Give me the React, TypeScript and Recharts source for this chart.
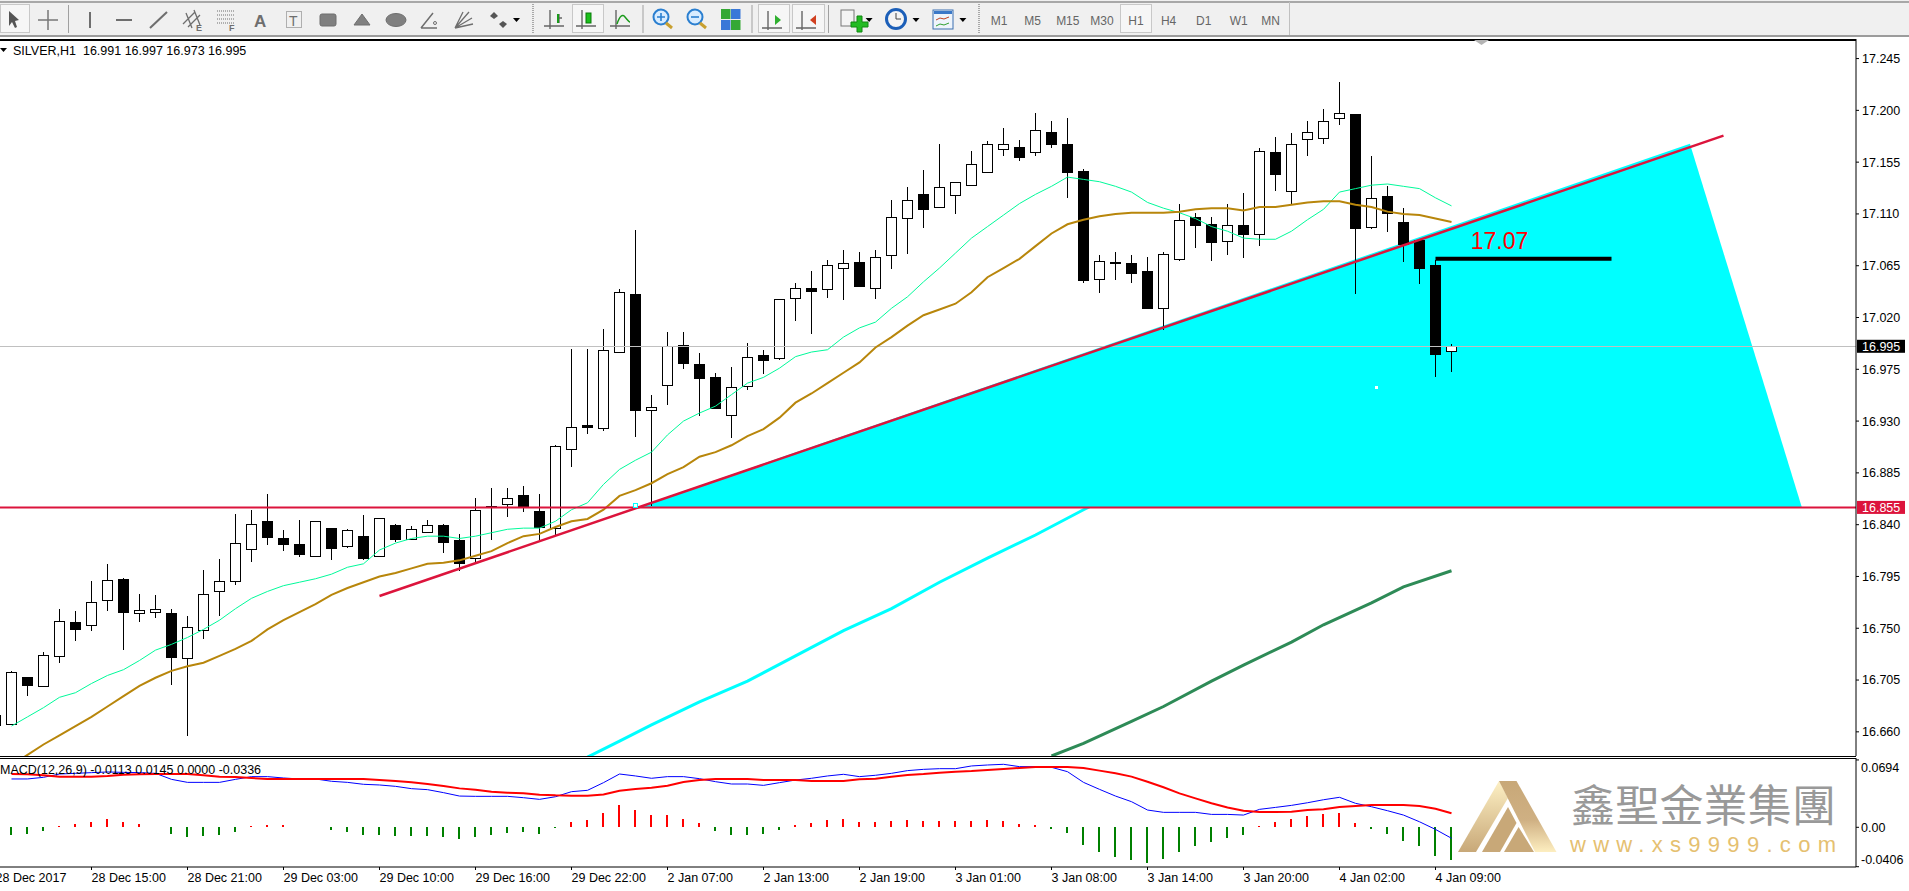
import React from 'react';
import { ComposedChart, Bar, Line, Area, XAxis, YAxis, ReferenceLine, ReferenceDot } from 'recharts';

// Candles start at bar index -1 (the one cut off by the left edge)
const opens = [16.666,16.667,16.708,16.700,16.726,16.755,16.753,16.775,16.793,16.763,16.764,16.763,16.724,16.749,16.782,16.791,16.819,16.843,16.828,16.823,16.813,16.837,16.821,16.830,16.813,16.840,16.827,16.834,16.840,16.827,16.811,16.856,16.858,16.866,16.852,16.837,16.906,16.927,16.924,16.990,17.040,16.939,16.961,16.996,16.980,16.968,16.936,16.961,16.987,16.985,17.037,17.046,17.045,17.063,17.068,17.046,17.074,17.106,17.127,17.116,17.127,17.135,17.147,17.167,17.168,17.164,17.181,17.171,17.147,17.053,17.068,17.067,17.060,17.028,17.071,17.107,17.101,17.086,17.100,17.093,17.164,17.130,17.175,17.176,17.194,17.197,17.099,17.126,17.103,17.087,17.066,16.991];
const closes = [16.675,16.712,16.701,16.727,16.756,16.749,16.773,16.792,16.764,16.766,16.767,16.725,16.751,16.780,16.791,16.824,16.841,16.829,16.823,16.814,16.843,16.820,16.835,16.811,16.846,16.828,16.836,16.840,16.825,16.807,16.853,16.855,16.863,16.856,16.838,16.908,16.925,16.925,16.992,17.042,16.939,16.942,16.995,16.980,16.968,16.941,16.960,16.986,16.983,17.036,17.046,17.043,17.066,17.067,17.047,17.073,17.107,17.122,17.114,17.133,17.138,17.153,17.171,17.171,17.159,17.183,17.171,17.147,17.052,17.069,17.067,17.058,17.028,17.075,17.105,17.100,17.085,17.100,17.092,17.165,17.145,17.171,17.181,17.191,17.198,17.098,17.124,17.111,17.084,17.063,16.989,16.995];
const highs = [16.678,16.713,16.708,16.729,16.767,16.765,16.791,16.806,16.794,16.780,16.779,16.767,16.761,16.801,16.810,16.849,16.853,16.867,16.835,16.844,16.843,16.837,16.836,16.848,16.846,16.841,16.839,16.844,16.841,16.832,16.863,16.872,16.872,16.874,16.867,16.909,16.993,16.993,17.010,17.045,17.096,16.953,17.007,17.007,16.989,16.972,16.977,16.998,16.992,17.036,17.050,17.060,17.070,17.079,17.077,17.079,17.122,17.133,17.148,17.171,17.138,17.165,17.173,17.185,17.174,17.198,17.191,17.193,17.149,17.074,17.077,17.074,17.073,17.077,17.119,17.111,17.107,17.119,17.128,17.167,17.177,17.180,17.191,17.201,17.225,17.197,17.160,17.134,17.115,17.087,17.070,16.997];
const lows = [16.664,16.667,16.691,16.700,16.720,16.739,16.748,16.765,16.731,16.755,16.759,16.701,16.656,16.741,16.761,16.788,16.808,16.822,16.817,16.812,16.812,16.809,16.820,16.809,16.813,16.825,16.827,16.834,16.815,16.800,16.807,16.827,16.847,16.851,16.827,16.830,16.890,16.919,16.921,16.989,16.916,16.856,16.944,16.975,16.934,16.941,16.915,16.957,16.971,16.983,17.017,17.006,17.037,17.035,17.047,17.036,17.062,17.075,17.098,17.115,17.110,17.134,17.146,17.160,17.156,17.160,17.167,17.124,17.050,17.041,17.053,17.050,17.027,17.009,17.069,17.080,17.069,17.074,17.072,17.082,17.130,17.119,17.160,17.171,17.187,17.040,17.097,17.094,17.068,17.049,16.968,16.973];

// Moving averages start at bar index 0
const fastMa = [16.665,16.673,16.681,16.690,16.694,16.702,16.709,16.714,16.722,16.731,16.736,16.742,16.749,16.757,16.767,16.776,16.782,16.787,16.790,16.793,16.797,16.803,16.806,16.818,16.824,16.828,16.830,16.830,16.828,16.830,16.833,16.836,16.837,16.837,16.843,16.853,16.859,16.875,16.888,16.896,16.903,16.918,16.930,16.937,16.943,16.953,16.963,16.968,16.976,16.986,16.990,16.992,17.003,17.011,17.016,17.028,17.038,17.051,17.063,17.076,17.089,17.099,17.109,17.119,17.127,17.134,17.142,17.140,17.138,17.134,17.129,17.120,17.115,17.111,17.106,17.099,17.095,17.089,17.088,17.088,17.095,17.105,17.114,17.129,17.132,17.135,17.136,17.134,17.132,17.124,17.117];
const midMa = [16.631,16.640,16.649,16.657,16.665,16.673,16.682,16.691,16.700,16.707,16.713,16.717,16.720,16.726,16.732,16.739,16.749,16.757,16.764,16.771,16.779,16.785,16.790,16.795,16.798,16.802,16.806,16.807,16.809,16.813,16.817,16.824,16.830,16.832,16.838,16.843,16.845,16.853,16.865,16.870,16.876,16.884,16.890,16.899,16.903,16.909,16.917,16.923,16.933,16.946,16.954,16.963,16.972,16.981,16.994,17.003,17.013,17.022,17.027,17.032,17.042,17.055,17.063,17.071,17.082,17.093,17.101,17.105,17.108,17.110,17.111,17.111,17.111,17.112,17.114,17.115,17.115,17.113,17.116,17.116,17.118,17.120,17.121,17.121,17.118,17.116,17.112,17.110,17.109,17.106,17.103];

// Slow averages, read at the marked bar indices
const cyanBars = [36,38,40,43,46,49,52,55,58,61,64,67,70];
const cyanMa = [16.638,16.652,16.666,16.686,16.704,16.726,16.748,16.767,16.790,16.811,16.831,16.853,16.874];
const greenBars = [65,67,70,72,75,77,80,82,85,87,90];
const greenMa = [16.639,16.650,16.669,16.682,16.704,16.718,16.738,16.753,16.772,16.786,16.800];

// MACD pane, from bar index 0
const macdHist = [-0.0082,-0.0072,-0.0041,0.0010,0.0031,0.0052,0.0082,0.0052,0.0031,0.0005,-0.0072,-0.0103,-0.0093,-0.0082,-0.0052,0.0010,0.0021,0.0021,0.0005,0.0007,-0.0031,-0.0052,-0.0082,-0.0082,-0.0093,-0.0093,-0.0093,-0.0103,-0.0124,-0.0103,-0.0082,-0.0062,-0.0052,-0.0072,-0.0007,0.0052,0.0072,0.0144,0.0227,0.0175,0.0124,0.0124,0.0082,0.0041,-0.0041,-0.0082,-0.0082,-0.0072,-0.0031,0.0021,0.0041,0.0072,0.0082,0.0052,0.0052,0.0062,0.0072,0.0062,0.0062,0.0062,0.0062,0.0072,0.0062,0.0031,0.0021,-0.0021,-0.0062,-0.0186,-0.0258,-0.0309,-0.0340,-0.0371,-0.0330,-0.0258,-0.0196,-0.0155,-0.0113,-0.0082,0.0010,0.0052,0.0082,0.0113,0.0134,0.0144,0.0041,-0.0021,-0.0072,-0.0144,-0.0196,-0.0299,-0.0336];
const macdLine = [0.0498,0.0498,0.0515,0.0549,0.0556,0.0563,0.0570,0.0566,0.0563,0.0556,0.0494,0.0463,0.0463,0.0463,0.0494,0.0522,0.0522,0.0508,0.0498,0.0498,0.0474,0.0463,0.0443,0.0436,0.0422,0.0398,0.0388,0.0357,0.0322,0.0319,0.0319,0.0319,0.0305,0.0288,0.0315,0.0367,0.0381,0.0460,0.0549,0.0529,0.0505,0.0522,0.0522,0.0501,0.0470,0.0446,0.0446,0.0432,0.0460,0.0487,0.0505,0.0529,0.0546,0.0522,0.0536,0.0556,0.0584,0.0597,0.0604,0.0604,0.0632,0.0642,0.0649,0.0625,0.0625,0.0618,0.0573,0.0463,0.0391,0.0322,0.0264,0.0178,0.0154,0.0154,0.0154,0.0133,0.0133,0.0126,0.0185,0.0205,0.0226,0.0253,0.0284,0.0309,0.0247,0.0212,0.0171,0.0126,0.0057,-0.0022,-0.0113];
const signalLine = [0.0549,0.0546,0.0536,0.0522,0.0522,0.0522,0.0529,0.0542,0.0546,0.0549,0.0549,0.0549,0.0536,0.0522,0.0518,0.0508,0.0498,0.0498,0.0498,0.0498,0.0498,0.0498,0.0498,0.0487,0.0477,0.0463,0.0446,0.0425,0.0401,0.0388,0.0367,0.0357,0.0350,0.0336,0.0329,0.0326,0.0326,0.0339,0.0377,0.0395,0.0408,0.0429,0.0467,0.0487,0.0498,0.0498,0.0498,0.0487,0.0487,0.0487,0.0477,0.0477,0.0477,0.0494,0.0501,0.0522,0.0539,0.0549,0.0563,0.0573,0.0580,0.0591,0.0601,0.0611,0.0622,0.0622,0.0622,0.0611,0.0584,0.0556,0.0522,0.0470,0.0412,0.0350,0.0298,0.0247,0.0205,0.0171,0.0157,0.0157,0.0161,0.0178,0.0185,0.0209,0.0219,0.0229,0.0229,0.0229,0.0219,0.0192,0.0145];

const priceTicks = [17.245,17.2,17.155,17.11,17.065,17.02,16.975,16.93,16.885,16.84,16.795,16.75,16.705,16.66];
const macdTicks = [0.0694,0,-0.0406];
const macdTickText = ['0.0694','0.00','-0.0406'];
const timeBars = [-1,5,11,17,23,29,35,41,47,53,59,65,71,77,83,89];
const timeLabels = ['28 Dec 2017','28 Dec 15:00','28 Dec 21:00','29 Dec 03:00','29 Dec 10:00','29 Dec 16:00','29 Dec 22:00','2 Jan 07:00','2 Jan 13:00','2 Jan 19:00','3 Jan 01:00','3 Jan 08:00','3 Jan 14:00','3 Jan 20:00','4 Jan 02:00','4 Jan 09:00'];

// Drawn objects: triangle vertices, trend line, support, target
const triangleBars = [39.07,104.9,111.9];
const triangleTops = [16.855,17.171,16.855];
const supportPrice = 16.855;
const lastPrice = 16.995;
const targetPrice = 17.071;
const targetText = '17.07';

const FONT = '"Liberation Sans", Arial, sans-serif';
const W = 1925;
const X_DOMAIN: [number, number] = [-1.71875, 115.28125];

const mainRows: any[] = opens.map((o, k) => {
  const x = k - 1;
  const cyanAt = cyanBars.indexOf(x);
  const greenAt = greenBars.indexOf(x);
  return {
    x, o, c: closes[k], h: highs[k], l: lows[k], range: [lows[k], highs[k]],
    fast: x >= 0 ? fastMa[x] : null,
    mid: x >= 0 ? midMa[x] : null,
    cyan: cyanAt >= 0 ? cyanMa[cyanAt] : null,
    green: greenAt >= 0 ? greenMa[greenAt] : null,
  };
});
triangleBars.forEach((x, k) => mainRows.push({ x, tri: [supportPrice, triangleTops[k]] }));
mainRows.sort((a, b) => a.x - b.x);

const macdRows = macdHist.map((hist, x) => ({ x, hist, macd: macdLine[x], signal: signalLine[x] }));

function Candle(props: any) {
  const { x, y, width, height, payload } = props;
  if (!payload || payload.o == null) return null;
  const { o, c, h, l } = payload;
  const cx = Math.floor(x + width / 2) + 0.5;
  const top = Math.min(y, y + height);
  const H = Math.abs(height);
  const py = (p: number) => top + ((h - p) / (h - l)) * H;
  const bodyTop = py(Math.max(o, c));
  const bodyBot = py(Math.min(o, c));
  const up = c >= o;
  return (
    <g shapeRendering="crispEdges">
      <line x1={cx} x2={cx} y1={top} y2={top + H} stroke="#000" strokeWidth={1} />
      <rect x={cx - 5} y={Math.round(bodyTop) + 0.5} width={10} height={Math.max(1, Math.round(bodyBot - bodyTop))}
        fill={up ? '#fff' : '#000'} stroke="#000" strokeWidth={1} />
    </g>
  );
}

function HistBar(props: any) {
  const { x, y, width, height, payload } = props;
  const cx = Math.floor(x + width / 2);
  const top = Math.min(y, y + height);
  return <rect x={cx - 1} y={top} width={2} height={Math.abs(height)} shapeRendering="crispEdges"
    fill={payload.hist >= 0 ? '#ff0000' : '#008000'} />;
}

const priceTag = (text: string, bg: string) => (props: any) => {
  const vb = props.viewBox || {};
  const right = vb.x + vb.width;
  return (
    <g>
      <rect x={right + 1} y={vb.y - 6.5} width={48} height={13} fill={bg} />
      <text x={right + 6} y={vb.y + 4.5} fontFamily={FONT} fontSize={12.5} fill="#fff">{text}</text>
    </g>
  );
};

const WhiteSpeck = (p: any) => <rect x={p.cx - 1} y={p.cy - 1} width={3} height={3} fill="#fff" shapeRendering="crispEdges" />;
const AnchorSquare = (p: any) => <rect x={p.cx - 2} y={p.cy - 2} width={4} height={4} fill="#fff" stroke="#00ffff" shapeRendering="crispEdges" />;

function MacdTick(props: any) {
  const { x, y, payload } = props;
  const k = macdTicks.indexOf(payload.value);
  const shift = k === 0 ? 8 : k === 2 ? -7 : 0;
  return (
    <text x={x + 1} y={y + 4.5 + shift} fontFamily={FONT} fontSize={12.5} fill="#000">{macdTickText[k]}</text>
  );
}

function TimeTick(props: any) {
  const { x, y, payload } = props;
  const k = timeBars.indexOf(payload.value);
  return (
    <text x={x} y={y + 10} fontFamily={FONT} fontSize={12.5} fill="#000">{timeLabels[k]}</text>
  );
}

const Sep = ({ x }: { x: number }) => <line x1={x} x2={x} y1={5} y2={33} stroke="#a0a0a0" />;
const Grip = ({ x }: { x: number }) => <line x1={x} x2={x} y1={4} y2={34} stroke="#a8a8a8" strokeWidth={2} strokeDasharray="1 1" />;
const Drop = ({ x }: { x: number }) => <polygon points={`${x - 3},18 ${x + 4},18 ${x + 0.5},22`} fill="#000" />;
const Press = ({ x, w }: { x: number; w: number }) => (
  <rect x={x + 0.5} y={4.5} width={w} height={28} fill="#f6f6f6" stroke="#c8c8c8" />
);
const FRAMES: [string, number][] = [['M1', 999], ['M5', 1032.6], ['M15', 1067.8], ['M30', 1102], ['H1', 1136], ['H4', 1168.6], ['D1', 1203.7], ['W1', 1238.8], ['MN', 1270.6]];

function Toolbar() {
  const g = '#6e6e6e';
  return (
    <svg width={1909} height={39} style={{ position: 'absolute', left: 0, top: 0 }}>
      <rect width={1909} height={39} fill="#fff" />
      <rect width={1909} height={36} y={0} fill="#f0f0f0" />
      <rect width={1909} height={2} y={1} fill="#a8a8a8" />
      <rect width={1909} height={2} y={35} fill="#9c9c9c" />
      <Press x={0} w={29} />
      <Press x={572} w={31} />
      <Press x={758} w={31} />
      <Press x={792} w={32} />
      <Press x={1120} w={31} />
      <line x1={1289.5} x2={1289.5} y1={2} y2={35} stroke="#c0c0c0" />
      <polygon points="9,11 9,26 12,22 15,28 17,27 15,21 19,20" fill="#555" />
      <path d="M48,10v20M38,20h20" stroke="#777" strokeWidth={1.5} />
      <Sep x={68.5} />
      <line x1={90} x2={90} y1={12} y2={28} stroke={g} strokeWidth={2} />
      <line x1={116} x2={132} y1={20} y2={20} stroke={g} strokeWidth={2} />
      <line x1={150} x2={167} y1={28} y2={12} stroke={g} strokeWidth={2} />
      <path d="M183,24l12,-12M188,27l12,-12M186,13l6,15M194,10l6,15" stroke={g} strokeWidth={1.3} fill="none" />
      <text x={196} y={31} fontFamily={FONT} fontSize={9} fontWeight={700} fill={g}>E</text>
      <path d="M217,11h17M217,15h17M217,19h17M217,23h17" stroke={g} strokeDasharray="1 1" />
      <text x={229} y={31} fontFamily={FONT} fontSize={9} fontWeight={700} fill={g}>F</text>
      <text x={254} y={27} fontFamily={FONT} fontSize={17} fontWeight={700} fill={g}>A</text>
      <rect x={286.5} y={11.5} width={15} height={16} fill="none" stroke={g} strokeDasharray="1 1" />
      <text x={289} y={26} fontFamily={FONT} fontSize={14} fill={g}>T</text>
      <rect x={320} y={14} width={16} height={12} rx={2} fill="#808080" stroke={g} />
      <polygon points="362,14 370,25 354,25" fill="#808080" stroke={g} />
      <ellipse cx={396} cy={20} rx={10} ry={6.5} fill="#808080" stroke={g} />
      <path d="M421,28h16M421,28l12,-15" stroke={g} strokeWidth={1.5} fill="none" />
      <circle cx={435} cy={23} r={1.5} fill="none" stroke={g} />
      <path d="M455,28l14,-16M455,28l8,-16M455,28l17,-10M455,28l18,-4" stroke={g} strokeWidth={1.3} />
      <polygon points="494,12 498,16 494,19 490,16" fill="#555" />
      <polygon points="503,21 507,24 503,28 499,24" fill="#555" />
      <Drop x={516} />
      <Grip x={533} />
      <path d="M550,10v19M544,26h20M559,14v9M559,18h3" stroke="#666" strokeWidth={1.4} fill="none" />
      <path d="M558,14v9" stroke="#1a9a1a" strokeWidth={2} />
      <path d="M582,10v19M576,26h20" stroke="#666" strokeWidth={1.4} />
      <rect x={586} y={13} width={5} height={10} fill="#1bc01b" stroke="#0a7a0a" />
      <path d="M616,10v19M610,26h20" stroke="#666" strokeWidth={1.4} />
      <path d="M617,24q4,-12 8,-7t5,5" stroke="#1a9a1a" strokeWidth={1.5} fill="none" />
      <Sep x={643} />
      <g>
        <circle cx={661} cy={17} r={7.5} fill="#d8ecff" stroke="#2a7fd0" strokeWidth={2} />
        <path d="M657,17h8M661,13v8" stroke="#2a7fd0" strokeWidth={1.6} />
        <line x1={666} y1={23} x2={672} y2={28} stroke="#c8a030" strokeWidth={3} />
        <circle cx={695} cy={17} r={7.5} fill="#d8ecff" stroke="#2a7fd0" strokeWidth={2} />
        <path d="M691,17h8" stroke="#2a7fd0" strokeWidth={1.6} />
        <line x1={700} y1={23} x2={706} y2={28} stroke="#c8a030" strokeWidth={3} />
      </g>
      <rect x={721} y={9} width={9.5} height={10} fill="#35a835" />
      <rect x={731} y={9} width={9.5} height={10} fill="#3a78d8" />
      <rect x={721} y={20} width={9.5} height={10} fill="#3a78d8" />
      <rect x={731} y={20} width={9.5} height={10} fill="#35a835" />
      <Sep x={752} />
      <path d="M768,11v19M762,28h20" stroke="#666" strokeWidth={1.4} />
      <polygon points="775,15 781,20 775,25" fill="#30b030" />
      <path d="M802,11v19M796,28h20" stroke="#666" strokeWidth={1.4} />
      <polygon points="816,15 810,20 816,25" fill="#d04020" />
      <Sep x={828.5} />
      <rect x={841} y={10} width={13} height={16} fill="#f4f4f4" stroke="#777" />
      <path d="M851,22h6v-6h5v6h6v5h-6v5h-5v-5h-6z" fill="#22bb22" stroke="#118811" />
      <Drop x={868.6} />
      <circle cx={896} cy={19} r={9.5} fill="#f4f4f4" stroke="#1c5fb8" strokeWidth={3} />
      <path d="M896,13v6h5" stroke="#444" fill="none" />
      <Drop x={915.5} />
      <rect x={933} y={10} width={20} height={19} fill="#eef4fb" stroke="#3a6fb0" />
      <rect x={934} y={11} width={18} height={3} fill="#3a78c8" />
      <path d="M936,20l4,-2 4,1 5,-2" stroke="#c04020" fill="none" />
      <path d="M936,26l4,-2 4,1 5,-2" stroke="#30a030" fill="none" />
      <Drop x={962.4} />
      <Grip x={979} />
      {FRAMES.map(([t, x]) => (
        <text key={t} x={x} y={25} textAnchor="middle" fontFamily={FONT} fontSize={12} fill="#666">{t}</text>
      ))}
    </svg>
  );
}

function Overlay() {
  return (
    <svg width={1909} height={891} style={{ position: 'absolute', left: 0, top: 0, pointerEvents: 'none' }}>
      <defs>
        <linearGradient id="limbL" x1="0" y1="0" x2="0" y2="1">
          <stop offset="0" stopColor="#fdf0c4" />
          <stop offset="1" stopColor="#c8a878" />
        </linearGradient>
        <linearGradient id="limbR" x1="0" y1="0" x2="0" y2="1">
          <stop offset="0" stopColor="#c8a878" />
          <stop offset="0.55" stopColor="#cfb083" />
          <stop offset="1" stopColor="#fdeec0" />
        </linearGradient>
      </defs>
      <polygon points="0,48 7,48 3.5,52" fill="#000" />
      <polygon points="1474,40 1489,40 1481.5,45" fill="#b4b4b4" />
      <text x={13} y={54.5} fontFamily={FONT} fontSize={12.5} fill="#000" xmlSpace="preserve">SILVER,H1  16.991 16.997 16.973 16.995</text>
      <text x={0} y={773.5} fontFamily={FONT} fontSize={12.5} fill="#000">MACD(12,26,9) -0.0113 0.0145 0.0000 -0.0336</text>
      <polygon points="1499,781 1508,798 1476,852 1458,852" fill="url(#limbL)" />
      <polygon points="1499,781 1516.5,781 1556.5,852 1535,852" fill="url(#limbR)" />
      <polygon points="1508,807 1516.5,823 1500,852 1482,852" fill="#c8a878" />
      <polygon points="1518.6,827 1534,852 1504,852" fill="#c8a878" />
      <text x={1571} y={822} fontFamily='"Noto Sans CJK TC", sans-serif' fontSize={44} fill="#999" textLength={265} lengthAdjust="spacing">鑫聖金業集團</text>
      <text x={1570} y={852} fontFamily={FONT} fontSize={22} fill="#e5c070" textLength={266} lengthAdjust="spacing">www.xs9999.com</text>
    </svg>
  );
}

export default function App() {
  return (
    <div style={{ position: 'fixed', left: 0, top: 0, width: 1909, height: 891, background: '#fff', overflow: 'hidden' }}>
      <Toolbar />
      <div style={{ position: 'absolute', left: 0, top: 39, width: 1856, height: 2, background: '#000' }} />
      <div style={{ position: 'absolute', left: 0, top: 756, width: 1856, height: 1, background: '#000' }} />
      <div style={{ position: 'absolute', left: 0, top: 758, width: 1856, height: 1, background: '#000' }} />
      <div style={{ position: 'absolute', left: -16, top: 39 }}>
        <ComposedChart width={W} height={717} data={mainRows} margin={{ top: 0, right: 0, bottom: 0, left: 0 }}>
          <XAxis type="number" dataKey="x" domain={X_DOMAIN} hide allowDataOverflow />
          <YAxis orientation="right" width={53} domain={[16.639, 17.262]} ticks={priceTicks} interval={0} allowDataOverflow
            tickFormatter={(v: number) => v.toFixed(3)} tickSize={3} tickMargin={3}
            axisLine={{ stroke: '#000' }} tickLine={{ stroke: '#000' }}
            tick={{ fontFamily: FONT, fontSize: 12.5, fill: '#000' }} />
          <Area dataKey="tri" type="linear" connectNulls fill="#00ffff" fillOpacity={1} stroke="none" dot={false} activeDot={false} isAnimationActive={false} />
          <ReferenceLine y={lastPrice} stroke="#c0c0c0" strokeWidth={1} shapeRendering="crispEdges" label={priceTag(lastPrice.toFixed(3), '#000')} />
          <Line dataKey="cyan" type="linear" connectNulls stroke="#00ffff" strokeWidth={3} dot={false} activeDot={false} isAnimationActive={false} />
          <Line dataKey="green" type="linear" connectNulls stroke="#2e8b57" strokeWidth={3} dot={false} activeDot={false} isAnimationActive={false} />
          <Bar dataKey="range" barSize={11} shape={Candle} isAnimationActive={false} />
          <Line dataKey="fast" type="linear" connectNulls stroke="#00fa9a" strokeWidth={1} dot={false} activeDot={false} isAnimationActive={false} />
          <Line dataKey="mid" type="linear" connectNulls stroke="#b8860b" strokeWidth={2} dot={false} activeDot={false} isAnimationActive={false} />
          <ReferenceLine y={supportPrice} stroke="#dc143c" strokeWidth={2} label={priceTag(supportPrice.toFixed(3), '#dc143c')} />
          <ReferenceLine segment={[{ x: 23, y: 16.778 }, { x: 107, y: 17.178 }]} stroke="#dc143c" strokeWidth={2.5} />
          <ReferenceLine segment={[{ x: 89, y: targetPrice }, { x: 100, y: targetPrice }]} stroke="#000" strokeWidth={4} />
          <ReferenceDot x={93} y={17.087} r={0} fill="none" stroke="none"
            label={{ value: targetText, position: 'center', fill: '#ff0000', fontSize: 23, fontFamily: FONT }} />
          <ReferenceDot x={85.3} y={16.96} shape={WhiteSpeck} />
          <ReferenceDot x={39} y={16.857} shape={AnchorSquare} />
        </ComposedChart>
      </div>
      <div style={{ position: 'absolute', left: -16, top: 758 }}>
        <ComposedChart width={W} height={133} data={macdRows} margin={{ top: 0, right: 0, bottom: 0, left: 0 }}>
          <XAxis type="number" dataKey="x" domain={X_DOMAIN} ticks={timeBars} interval={0} allowDataOverflow height={24}
            tickSize={3} axisLine={{ stroke: '#000' }} tickLine={{ stroke: '#000' }} tick={TimeTick} />
          <YAxis orientation="right" width={53} domain={[-0.0409, 0.0714]} ticks={macdTicks} interval={0} allowDataOverflow
            tickSize={3} tickMargin={1} axisLine={{ stroke: '#000' }} tickLine={{ stroke: '#000' }} tick={MacdTick} />
          <Bar dataKey="hist" barSize={2} shape={HistBar} isAnimationActive={false} />
          <Line dataKey="macd" type="linear" stroke="#0000ff" strokeWidth={1} dot={false} activeDot={false} isAnimationActive={false} />
          <Line dataKey="signal" type="linear" stroke="#ff0000" strokeWidth={2} dot={false} activeDot={false} isAnimationActive={false} />
        </ComposedChart>
      </div>
      <Overlay />
    </div>
  );
}
